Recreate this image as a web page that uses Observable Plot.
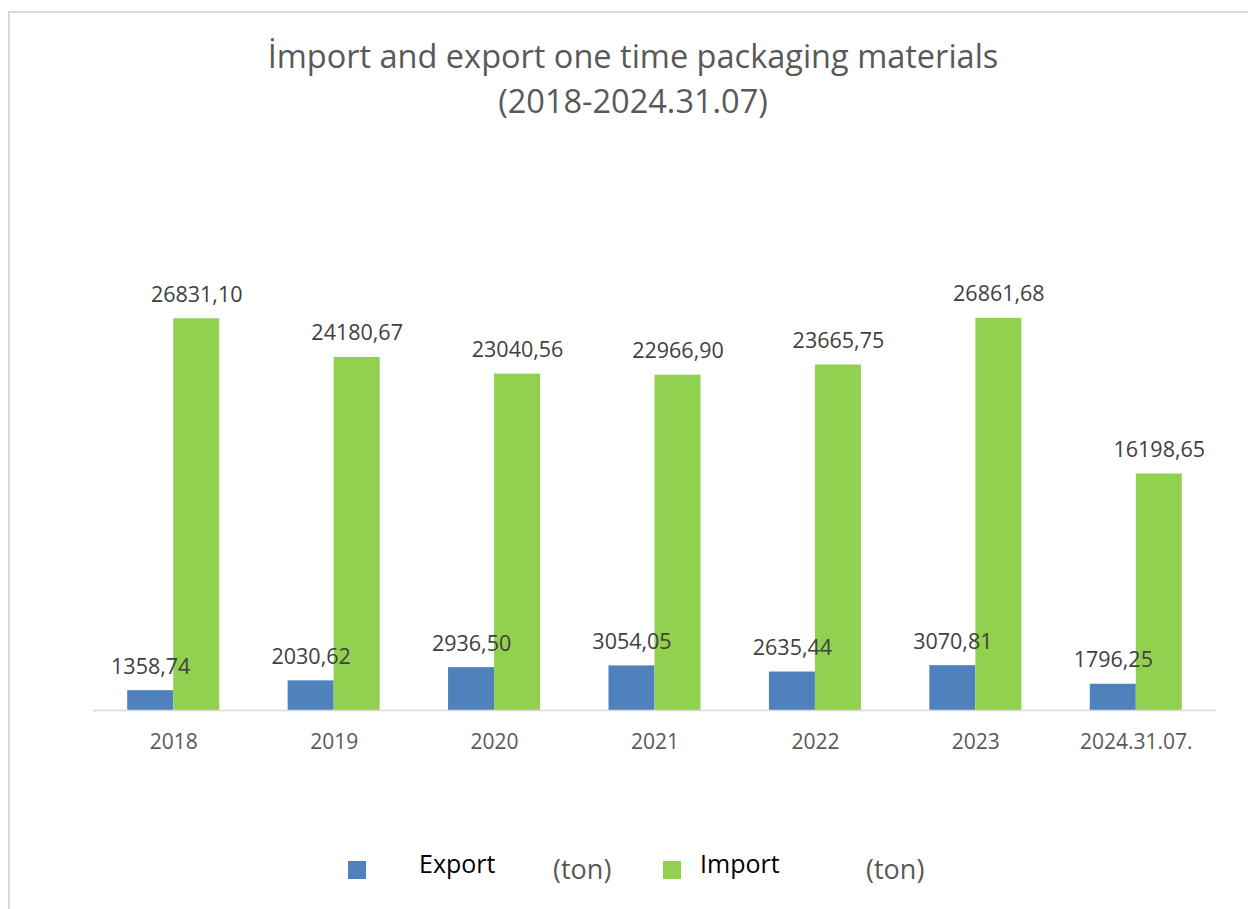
<!DOCTYPE html>
<html>
<head>
<meta charset="utf-8">
<script src="https://cdn.jsdelivr.net/npm/d3@7"></script>
<script src="https://cdn.jsdelivr.net/npm/@observablehq/plot@0.6"></script>
<style>
  html, body { margin: 0; padding: 0; background: #fff; }
  body { position: relative; width: 1248px; height: 909px; overflow: hidden; font-family: "Open Sans", sans-serif; }
  #frame { position: absolute; left: 8px; top: 11px; width: 1260px; height: 920px; border-left: 2px solid #d9d9d9; border-top: 2px solid #d9d9d9; }
  #title { position: absolute; left: 0; width: 1266px; top: 33px; text-align: center; color: #595959; font-size: 32.5px; line-height: 45px; }
  #chart { position: absolute; left: 0; top: 240px; }
  .leg { position: absolute; white-space: nowrap; }
  .sw { position: absolute; width: 18px; height: 18px; }
</style>
</head>
<body>
<div id="frame"></div>
<div id="title">İmport and export one time packaging materials<br>(2018-2024.31.07)</div>
<div id="chart"></div>
<div id="legend"></div>
<script>
const categories = ["2018", "2019", "2020", "2021", "2022", "2023", "2024.31.07."];
const exportValues = [1358.74, 2030.62, 2936.50, 3054.05, 2635.44, 3070.81, 1796.25];
const importValues = [26831.10, 24180.67, 23040.56, 22966.90, 23665.75, 26861.68, 16198.65];
const seriesNames = ["Export", "Import"];
const seriesColors = ["#4f81bd", "#92d050"];
const unitLabel = "(ton)";

const data = categories.flatMap((c, i) => [
  {cat: c, series: "Export", value: exportValues[i]},
  {cat: c, series: "Import", value: importValues[i]}
]);
const fmt = v => v.toFixed(2).replace(".", ",");

const chart = Plot.plot({
  width: 1248,
  height: 530,
  marginLeft: 93,
  marginRight: 32,
  marginTop: 32,
  marginBottom: 60,
  style: {fontFamily: "Open Sans, sans-serif", color: "#595959", background: "transparent", overflow: "visible"},
  fx: {domain: categories, padding: 0, label: null, round: false},
  x: {domain: seriesNames, paddingInner: 0, paddingOuter: 0.7435, axis: null, round: false},
  y: {domain: [0, 30000], axis: null},
  color: {domain: seriesNames, range: seriesColors},
  marks: [
    Plot.axisFx({anchor: "bottom", tickSize: 0, tickPadding: 24, fontSize: 21, label: null}),
    Plot.barY(data, {fx: "cat", x: "series", y: "value", fill: "series"}),
    Plot.ruleY([0], {stroke: "#d9d9d9", strokeWidth: 1.5}),
    Plot.text(data, {fx: "cat", x: "series", y: "value", text: d => fmt(d.value), dy: -24, fontSize: 21.5, fill: "#404040"})
  ]
});
document.getElementById("chart").appendChild(chart);

const legend = document.getElementById("legend");
const legItems = [
  {sw: 348, name: 419, unit: 553},
  {sw: 663, name: 700, unit: 866}
];
seriesNames.forEach((s, i) => {
  const p = legItems[i];
  const sw = document.createElement("div");
  sw.className = "sw"; sw.style.left = p.sw + "px"; sw.style.top = "861px"; sw.style.background = seriesColors[i];
  legend.appendChild(sw);
  const n = document.createElement("div");
  n.className = "leg"; n.textContent = s; n.style.left = p.name + "px"; n.style.top = "846px"; n.style.fontSize = "25px"; n.style.color = "#000";
  legend.appendChild(n);
  const u = document.createElement("div");
  u.className = "leg"; u.textContent = unitLabel; u.style.left = p.unit + "px"; u.style.top = "850px"; u.style.fontSize = "27px"; u.style.color = "#595959";
  legend.appendChild(u);
});
</script>
</body>
</html>
